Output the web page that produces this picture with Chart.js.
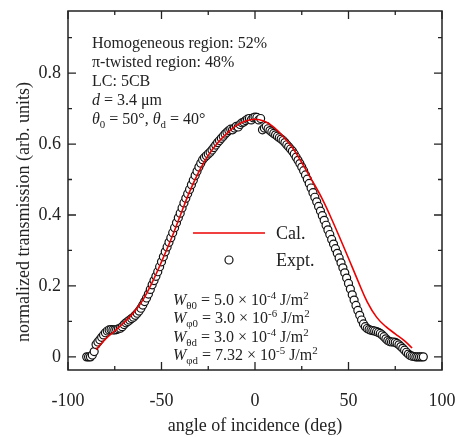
<!DOCTYPE html>
<html>
<head>
<meta charset="utf-8">
<script src="https://cdn.jsdelivr.net/npm/chart.js@4.4.1/dist/chart.umd.min.js"></script>
<style>
  html, body { margin: 0; padding: 0; background: #fff; }
  #chart { display: block; }
</style>
</head>
<body>
<canvas id="chart" width="455" height="437"></canvas>
<script>
// calculated curve (red line)
const calAngles = [-85, -80, -75, -70, -65, -60, -55, -50, -45, -40, -35, -30, -25, -20, -15, -10, -5, 0,
                   5, 10, 15, 20, 25, 30, 35, 40, 45, 50, 55, 60, 65, 70, 75, 80, 84];
const calValues = [0.020, 0.050, 0.073, 0.097, 0.124, 0.160, 0.210, 0.268, 0.330, 0.398, 0.465, 0.522, 0.568, 0.603, 0.630, 0.652, 0.665, 0.670,
                   0.664, 0.648, 0.622, 0.590, 0.548, 0.502, 0.455, 0.400, 0.340, 0.278, 0.215, 0.155, 0.112, 0.085, 0.065, 0.045, 0.025];

// experimental points (open circles)
const exptAngles = [
  -90, -89, -88, -87, -86, -85, -84, -83, -82, -81, -80, -79, -78, -77, -76, -75, -74, -73, -72, -71,
  -70, -69, -68, -67, -66, -65, -64, -63, -62, -61, -60, -59, -58, -57, -56, -55, -54, -53, -52, -51,
  -50, -49, -48, -47, -46, -45, -44, -43, -42, -41, -40, -39, -38, -37, -36, -35, -34, -33, -32, -31,
  -30, -29, -28, -27, -26, -25, -24, -23, -22, -21, -20, -19, -18, -17, -16, -15, -14, -13, -12, -11,
  -10, -9, -8, -7, -6, -5, -4, -3, -2, -1, 0, 1, 2, 3, 4, 5, 6, 7, 8, 9,
  10, 11, 12, 13, 14, 15, 16, 17, 18, 19, 20, 21, 22, 23, 24, 25, 26, 27, 28, 29,
  30, 31, 32, 33, 34, 35, 36, 37, 38, 39, 40, 41, 42, 43, 44, 45, 46, 47, 48, 49,
  50, 51, 52, 53, 54, 55, 56, 57, 58, 59, 60, 61, 62, 63, 64, 65, 66, 67, 68, 69,
  70, 71, 72, 73, 74, 75, 76, 77, 78, 79, 80, 81, 82, 83, 84, 85, 86, 87, 88, 89, 90];
const exptValues = [
  0.000, 0.000, 0.000, 0.005, 0.015, 0.035, 0.042, 0.048, 0.055, 0.062, 0.068, 0.073, 0.076, 0.077, 0.076, 0.076, 0.077, 0.079, 0.081, 0.085,
  0.091, 0.096, 0.100, 0.104, 0.108, 0.112, 0.117, 0.123, 0.129, 0.137, 0.146, 0.156, 0.166, 0.177, 0.190, 0.203, 0.215, 0.227, 0.240, 0.254,
  0.268, 0.282, 0.296, 0.310, 0.323, 0.336, 0.350, 0.364, 0.378, 0.392, 0.405, 0.420, 0.434, 0.447, 0.460, 0.472, 0.485, 0.498, 0.511, 0.523,
  0.535, 0.546, 0.556, 0.562, 0.567, 0.572, 0.577, 0.583, 0.590, 0.597, 0.604, 0.610, 0.616, 0.622, 0.628, 0.633, 0.638, 0.642, 0.640, 0.645,
  0.650, 0.648, 0.655, 0.660, 0.662, 0.666, 0.670, 0.672, 0.668, 0.674, 0.676, 0.675, 0.668, 0.672, 0.640, 0.645, 0.650, 0.643, 0.638, 0.634,
  0.630, 0.626, 0.622, 0.618, 0.614, 0.610, 0.604, 0.598, 0.592, 0.586, 0.580, 0.572, 0.563, 0.554, 0.545, 0.535, 0.525, 0.513, 0.501, 0.489,
  0.476, 0.463, 0.450, 0.437, 0.424, 0.411, 0.398, 0.385, 0.371, 0.358, 0.345, 0.331, 0.318, 0.305, 0.292, 0.279, 0.265, 0.251, 0.237, 0.222,
  0.207, 0.191, 0.175, 0.160, 0.145, 0.131, 0.117, 0.104, 0.093, 0.085, 0.080, 0.077, 0.075, 0.074, 0.073, 0.071, 0.069, 0.066, 0.062, 0.057,
  0.051, 0.046, 0.043, 0.042, 0.042, 0.041, 0.038, 0.034, 0.029, 0.024, 0.019, 0.013, 0.008, 0.004, 0.002, 0.001, 0.000, 0.000, 0.000, 0.000, 0.000];

const xTicks = [-100, -50, 0, 50, 100];
const xMinorTicks = [-75, -25, 25, 75];
const yTicks = [0, 0.2, 0.4, 0.6, 0.8];
const yMinorTicks = [0.1, 0.3, 0.5, 0.7, 0.9];

const SERIF = '"Liberation Serif", "DejaVu Serif", serif';
const INK = '#222';
const RED = 'rgb(236,0,0)';

// draws a line of text made of parts: {t, it, sub, sup}
function drawRich(ctx, x, y, parts, size) {
    ctx.textBaseline = 'alphabetic';
    ctx.textAlign = 'left';
    let cx = x;
    parts.forEach(p => {
        let s = size, dy = 0;
        if (p.sub) { s = size * 0.68; dy = size * 0.28; }
        if (p.sup) { s = size * 0.68; dy = -size * 0.4; }
        ctx.font = (p.it ? 'italic ' : '') + s + 'px ' + SERIF;
        ctx.fillText(p.t, cx, y + dy);
        cx += ctx.measureText(p.t).width;
    });
}

const decorPlugin = {
    id: 'decor',
    afterDraw(chart) {
        const ctx = chart.ctx;
        const area = chart.chartArea;
        const xs = chart.scales.x, ys = chart.scales.y;
        ctx.save();

        // frame
        ctx.strokeStyle = INK;
        ctx.lineWidth = 1.5;
        ctx.strokeRect(area.left, area.top, area.right - area.left, area.bottom - area.top);

        // inward ticks on all four sides
        ctx.lineWidth = 1.3;
        ctx.beginPath();
        const xt = (vals, len) => vals.forEach(v => {
            const px = xs.getPixelForValue(v);
            ctx.moveTo(px, area.bottom); ctx.lineTo(px, area.bottom - len);
            ctx.moveTo(px, area.top); ctx.lineTo(px, area.top + len);
        });
        const yt = (vals, len) => vals.forEach(v => {
            const py = ys.getPixelForValue(v);
            ctx.moveTo(area.left, py); ctx.lineTo(area.left + len, py);
            ctx.moveTo(area.right, py); ctx.lineTo(area.right - len, py);
        });
        xt(xTicks, 8); xt(xMinorTicks, 4);
        yt(yTicks, 8); yt(yMinorTicks, 4);
        ctx.stroke();

        // axis titles
        ctx.fillStyle = INK;
        ctx.font = '18px ' + SERIF;
        ctx.textAlign = 'center';
        ctx.textBaseline = 'middle';
        ctx.fillText('angle of incidence (deg)', (area.left + area.right) / 2, 426);
        ctx.save();
        ctx.translate(24, 212);
        ctx.rotate(-Math.PI / 2);
        ctx.fillText('normalized transmission (arb. units)', 0, 0);
        ctx.restore();

        // sample description
        const f = 16;
        drawRich(ctx, 92, 48, [{ t: 'Homogeneous region: 52%' }], f);
        drawRich(ctx, 92, 67, [{ t: 'π-twisted region: 48%' }], f);
        drawRich(ctx, 92, 86, [{ t: 'LC: 5CB' }], f);
        drawRich(ctx, 92, 105, [{ t: 'd', it: true }, { t: ' = 3.4 μm' }], f);
        drawRich(ctx, 92, 124, [{ t: 'θ', it: true }, { t: '0', sub: true }, { t: ' = 50°, ' },
                                { t: 'θ', it: true }, { t: 'd', sub: true }, { t: ' = 40°' }], f);

        // anchoring energies
        const wx = 173;
        drawRich(ctx, wx, 305, [{ t: 'W', it: true }, { t: 'θ0', sub: true }, { t: ' = 5.0 × 10' },
                                { t: '-4', sup: true }, { t: ' J/m' }, { t: '2', sup: true }], f);
        drawRich(ctx, wx, 323, [{ t: 'W', it: true }, { t: 'φ0', sub: true }, { t: ' = 3.0 × 10' },
                                { t: '-6', sup: true }, { t: ' J/m' }, { t: '2', sup: true }], f);
        drawRich(ctx, wx, 342, [{ t: 'W', it: true }, { t: 'θd', sub: true }, { t: ' = 3.0 × 10' },
                                { t: '-4', sup: true }, { t: ' J/m' }, { t: '2', sup: true }], f);
        drawRich(ctx, wx, 360, [{ t: 'W', it: true }, { t: 'φd', sub: true }, { t: ' = 7.32 × 10' },
                                { t: '-5', sup: true }, { t: ' J/m' }, { t: '2', sup: true }], f);

        // legend
        const cal = chart.data.datasets[0], ex = chart.data.datasets[1];
        ctx.strokeStyle = cal.borderColor;
        ctx.lineWidth = cal.borderWidth;
        ctx.beginPath();
        ctx.moveTo(193, 233); ctx.lineTo(265, 233);
        ctx.stroke();
        ctx.fillStyle = ex.pointBackgroundColor;
        ctx.strokeStyle = ex.pointBorderColor;
        ctx.lineWidth = ex.pointBorderWidth;
        ctx.beginPath();
        ctx.arc(229, 260, ex.pointRadius, 0, Math.PI * 2);
        ctx.fill(); ctx.stroke();
        ctx.fillStyle = INK;
        ctx.font = '18px ' + SERIF;
        ctx.textAlign = 'left';
        ctx.textBaseline = 'middle';
        ctx.fillText('Cal.', 276, 234);
        ctx.fillText('Expt.', 276, 261);

        ctx.restore();
    }
};

const ctx = document.getElementById('chart').getContext('2d');
new Chart(ctx, {
    type: 'scatter',
    data: {
        datasets: [{
            label: 'Cal.',
            data: calAngles.map((a, i) => ({ x: a, y: calValues[i] })),
            showLine: true,
            borderColor: RED,
            borderWidth: 1.6,
            pointRadius: 0,
            tension: 0.4,
            fill: false
        }, {
            label: 'Expt.',
            data: exptAngles.map((a, i) => ({ x: a, y: exptValues[i] })),
            showLine: false,
            pointRadius: 4,
            pointBorderWidth: 1.2,
            pointBackgroundColor: '#fff',
            pointBorderColor: '#111'
        }]
    },
    options: {
        responsive: false,
        animation: false,
        devicePixelRatio: 1,
        layout: { padding: { left: 0, right: 13, top: 11, bottom: 0 } },
        plugins: {
            legend: { display: false },
            tooltip: { enabled: false }
        },
        scales: {
            x: {
                type: 'linear',
                min: -100,
                max: 100,
                afterBuildTicks: s => { s.ticks = xTicks.map(v => ({ value: v })); },
                afterFit: s => { s.height = 67; s.paddingLeft = 0; s.paddingRight = 0; },
                grid: { display: false, drawTicks: false },
                border: { display: false },
                ticks: {
                    padding: 20,
                    color: INK,
                    font: { family: SERIF, size: 18 },
                    maxRotation: 0,
                    callback: v => String(v)
                }
            },
            y: {
                type: 'linear',
                min: -0.037,
                max: 0.975,
                afterBuildTicks: s => { s.ticks = yTicks.map(v => ({ value: v })); },
                afterFit: s => { s.width = 68; s.paddingTop = 0; s.paddingBottom = 0; },
                grid: { display: false, drawTicks: false },
                border: { display: false },
                ticks: {
                    padding: 7,
                    color: INK,
                    font: { family: SERIF, size: 18 },
                    callback: v => (v === 0 ? '0' : v.toFixed(1))
                }
            }
        }
    },
    plugins: [decorPlugin]
});
</script>
</body>
</html>
